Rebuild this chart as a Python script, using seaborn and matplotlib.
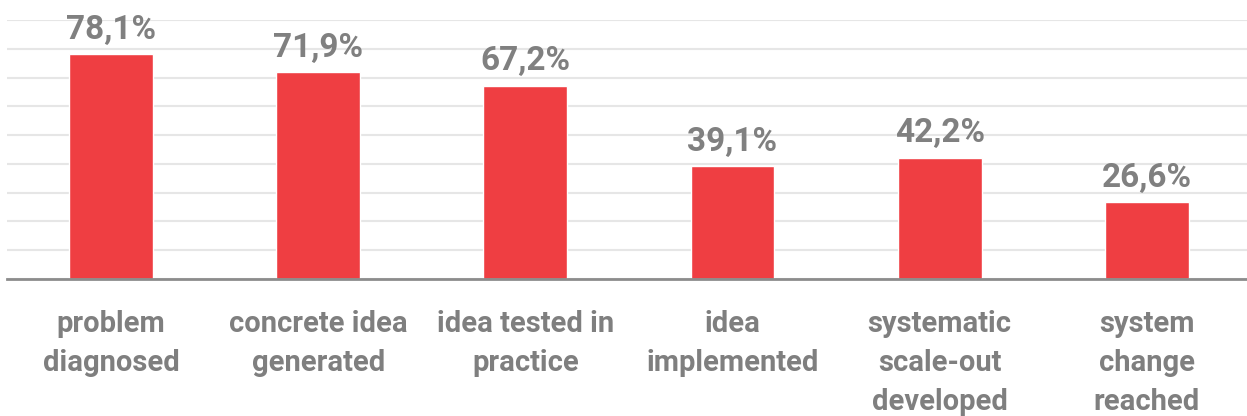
import matplotlib
matplotlib.use("Agg")
import matplotlib.pyplot as plt
import seaborn as sns
import pandas as pd
from matplotlib import font_manager

categories = ["problem\ndiagnosed", "concrete idea\ngenerated", "idea tested in\npractice",
              "idea\nimplemented", "systematic\nscale-out\ndeveloped", "system\nchange\nreached"]
values = [78.1, 71.9, 67.2, 39.1, 42.2, 26.6]
value_labels = ["78,1%", "71,9%", "67,2%", "39,1%", "42,2%", "26,6%"]

sns.set_theme(style="white")
names = {f.name for f in font_manager.fontManager.ttflist}
fam = "Liberation Sans Narrow" if "Liberation Sans Narrow" in names else "Roboto"
plt.rcParams['font.family'] = [fam, 'DejaVu Sans']

fig = plt.figure(figsize=(12.47, 4.16), dpi=100)
ax = fig.add_axes([7.4/1247, 137/416, 1243/1247, 259/416])

df = pd.DataFrame({"cat": categories, "val": values})
sns.barplot(data=df, x="cat", y="val", color="#EF3E42", width=0.405, saturation=1, ax=ax, zorder=3)

ax.set_ylim(0, 90)
ax.set_yticks(range(0, 91, 10))
ax.yaxis.grid(True, color="#e6e6e6", linewidth=1.5, zorder=0)
ax.set_axisbelow(True)
for s in ["top", "right", "left"]:
    ax.spines[s].set_visible(False)
ax.spines["bottom"].set_color("#8c8c8c")
ax.spines["bottom"].set_linewidth(2)
ax.spines["bottom"].set_zorder(4)
ax.set_yticklabels([])
ax.tick_params(axis="y", length=0)
ax.tick_params(axis="x", length=0, pad=22, labelsize=21, labelcolor="#7f7f7f")
for t in ax.get_xticklabels():
    t.set_fontweight("bold")
    t.set_linespacing(1.5)
ax.set_xlabel("")
ax.set_ylabel("")

ax.bar_label(ax.containers[0], labels=value_labels, padding=6, fontsize=24,
             fontweight="bold", color="#808080")

fig.savefig("out.png", dpi=100)
